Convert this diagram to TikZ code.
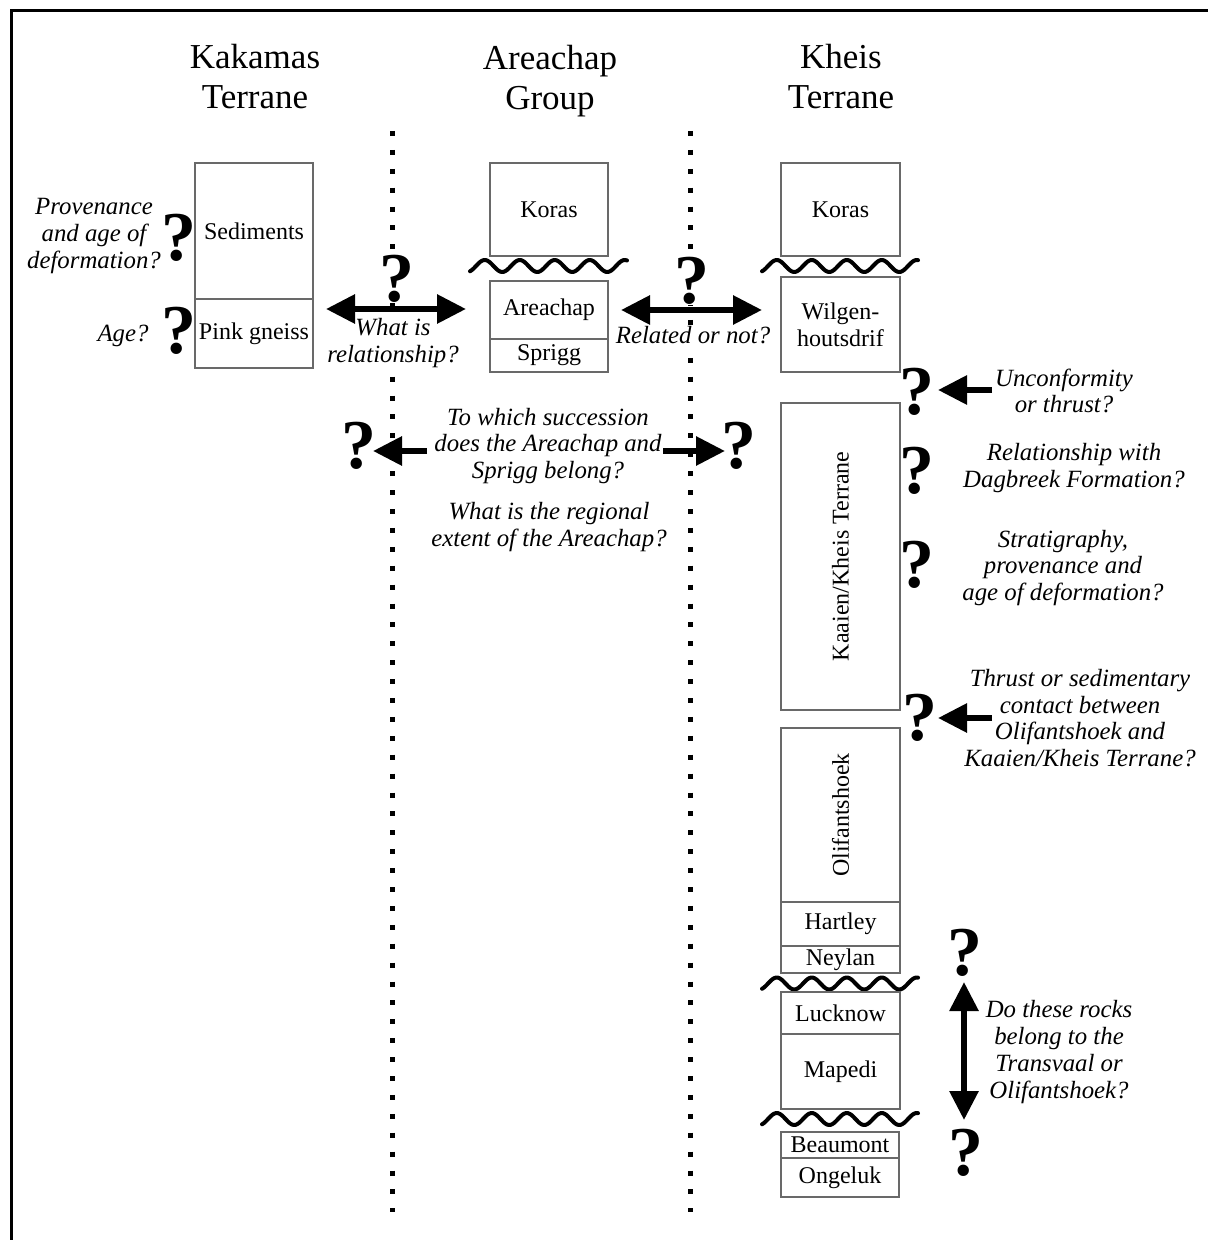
\documentclass[tikz,border=0pt]{standalone}
\usepackage{fontspec}
\setmainfont{Liberation Serif}
\usetikzlibrary{arrows.meta}
\begin{document}
\begin{tikzpicture}[x=0.5pt,y=-0.5pt,
  title/.style={align=center,inner sep=0pt,font=\fontsize{17.5}{20}\selectfont},
  box/.style={draw={rgb,255:red,105;green,105;blue,105},line width=0.6pt,inner sep=0pt,
    minimum width=59pt,align=center,font=\fontsize{12}{13.5}\selectfont},
  note/.style={align=center,inner sep=0.5pt,fill=white,font=\fontsize{12.4}{13.4}\itshape\selectfont},
  qm/.style={inner sep=0pt,font=\fontsize{35}{35}\bfseries\selectfont},
  dotline/.style={line width=2.5pt,dash pattern=on 2.5pt off 6.95pt},
  wave/.style={line width=2pt,line join=round,line cap=round},
  bigarrow/.style={line width=3pt,-{Triangle[length=14.5pt,width=14pt]}},
  dblarrow/.style={line width=3pt,{Triangle[length=14.5pt,width=14pt]}-{Triangle[length=14.5pt,width=14pt]}}
]
\useasboundingbox (0,0) rectangle (1208,1240);
\fill[white] (0,0) rectangle (1208,1240);
% frame
\draw[line width=1.4pt] (11.3,1240) -- (11.3,10.3) -- (1208,10.3);

% titles
\node[title] (t1) at (255,77) {Kakamas\\Terrane};
\node[title] (t2) at (550,81) {Areachap\\Group};
\node[title] (t3) at (841,77) {Kheis\\Terrane};

% dotted separators
\draw[dotline] (392,131) -- (392,1212);
\draw[dotline] (690.5,131) -- (690.5,1212);

% unconformities
\draw[wave] plot[domain=0:157,samples=90,smooth] ({470+\x},{266-6*sin(10.2857*(\x-6))});
\draw[wave] plot[domain=0:156,samples=90,smooth] ({762+\x},{266-6*sin(10.2857*(\x-6))});
\draw[wave] plot[domain=0:156,samples=90,smooth] ({762+\x},{983.5-6*sin(10.2857*(\x-6))});
\draw[wave] plot[domain=0:156,samples=90,smooth] ({762+\x},{1119-6*sin(10.2857*(\x-6))});

% Kakamas column
\node[box,minimum height=68pt] (sed) at (254,231) {Sediments};
\node[box,minimum height=34.5pt] (pink) at (254,333.5) {Pink gneiss};

% Areachap column
\node[box,minimum height=46.5pt] (koras1) at (549,209.5) {Koras};
\node[box,minimum height=29pt] (areachap) at (549,310) {Areachap};
\node[box,minimum height=16.5pt] (sprigg) at (549,355.5) {Sprigg};

% Kheis column
\node[box,minimum width=59.5pt,minimum height=46.5pt] (koras2) at (840.5,209.5) {Koras};
\node[box,minimum width=59.5pt,minimum height=47.5pt] (wilg) at (840.5,324.5) {Wilgen-\\houtsdrif};
\node[box,rotate=90,minimum width=153.5pt,minimum height=59.5pt] (kaaien) at (840.5,556.5) {Kaaien/Kheis Terrane};
\node[box,rotate=90,minimum width=87pt,minimum height=59.5pt] (olif) at (840.5,815) {Olifantshoek};
\node[box,minimum width=59.5pt,minimum height=22pt] (hartley) at (840.5,924) {Hartley};
\node[box,minimum width=59.5pt,minimum height=13.5pt] (neylan) at (840.5,959.5) {Neylan};
\node[box,minimum width=59.5pt,minimum height=21pt] (lucknow) at (840.5,1013) {Lucknow};
\node[box,minimum width=59.5pt,minimum height=37.5pt] (mapedi) at (840.5,1071.5) {Mapedi};
\node[box,minimum width=59pt,minimum height=13pt] (beaumont) at (840,1145) {Beaumont};
\node[box,minimum width=59pt,minimum height=19.5pt] (ongeluk) at (840,1177.5) {Ongeluk};

% notes
\node[note] (n1) at (94,236) {Provenance\\and age of\\deformation?};
\node[note] (n2) at (123,336) {Age?};
\node[note] (n3) at (393,343) {What is\\relationship?};
\node[note] (n4) at (693,335) {Related or not?};
\node[note] (n5) at (548,446) {To which succession\\does the Areachap and\\Sprigg belong?};
\node[note] (n6) at (549,527) {What is the regional\\extent of the Areachap?};
\node[note] (n7) at (1064,391) {Unconformity\\or thrust?};
\node[note] (n8) at (1074,468) {Relationship with\\Dagbreek Formation?};
\node[note] (n9) at (1063,568) {Stratigraphy,\\provenance and\\age of deformation?};
\node[note] (n10) at (1080,718) {Thrust or sedimentary\\contact between\\Olifantshoek and\\Kaaien/Kheis Terrane?};
\node[note] (n11) at (1059,1052) {Do these rocks\\belong to the\\Transvaal or\\Olifantshoek?};

% question marks
\node[qm] (q1) at (179,238) {?};
\node[qm] (q2) at (179,331) {?};
\node[qm,fill=white] (q3) at (397,279) {?};
\node[qm,fill=white] (q4) at (692,281) {?};
\node[qm] (q5) at (917,392) {?};
\node[qm] (q6) at (917,471) {?};
\node[qm] (q7) at (917,565) {?};
\node[qm] (q8) at (920,718) {?};
\node[qm] (q9) at (965,953) {?};
\node[qm] (q10) at (966,1153) {?};
\node[qm] (q11) at (359,446) {?};
\node[qm] (q12) at (739,446) {?};

% arrows
\coordinate (a1l) at (326,309);
\coordinate (a1r) at (466,309);
\coordinate (a2l) at (621,310);
\coordinate (a2r) at (762,310);
\coordinate (ua) at (992,390);
\coordinate (ut) at (938,390);
\coordinate (ta) at (992,718);
\coordinate (tt) at (938,718);
\coordinate (sla) at (427,451);
\coordinate (slt) at (373,451);
\coordinate (sra) at (663,451);
\coordinate (srt) at (725,451);
\coordinate (vt) at (964,982);
\coordinate (vb) at (964,1120);
\draw[dblarrow] (a1l) -- (a1r);
\draw[dblarrow] (a2l) -- (a2r);
\draw[bigarrow] (ua) -- (ut);
\draw[bigarrow] (ta) -- (tt);
\draw[bigarrow] (sla) -- (slt);
\draw[bigarrow] (sra) -- (srt);
\draw[dblarrow] (vt) -- (vb);
\end{tikzpicture}
\end{document}
